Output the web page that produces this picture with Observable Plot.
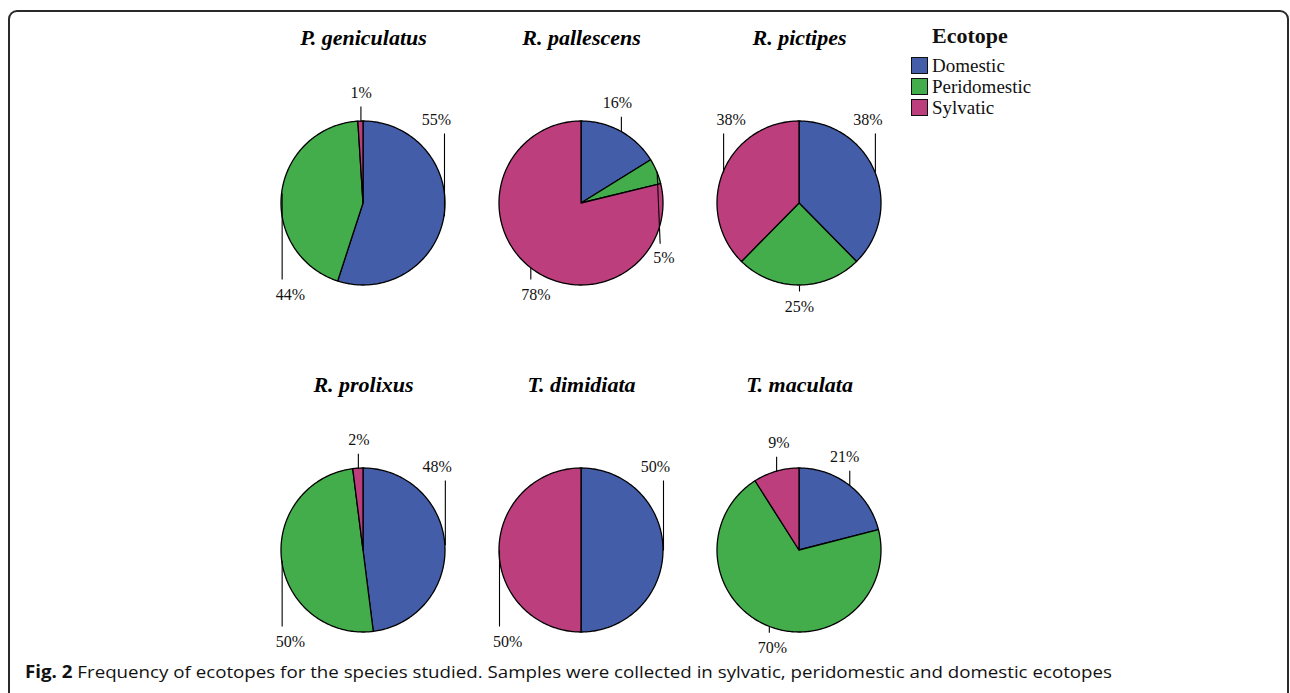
<!DOCTYPE html>
<html><head><meta charset="utf-8">
<script src="https://cdn.jsdelivr.net/npm/d3@7"></script>
<script src="https://cdn.jsdelivr.net/npm/@observablehq/plot@0.6"></script>
<style>
html,body{margin:0;padding:0;background:#fff;overflow:hidden}
#page{position:relative;width:1290px;height:693px;overflow:hidden;background:#fff}
#frame{position:absolute;left:8px;top:10px;width:1281px;height:710px;border:2px solid #2a2a2a;border-radius:9px;box-sizing:border-box}
#chart{position:absolute;left:0;top:0}
#legend{position:absolute;left:0;top:0;font-family:"Liberation Serif","Times New Roman",serif;color:#111}
.lg-title{position:absolute;left:932px;top:25px;font-size:22px;line-height:22px;font-weight:bold;white-space:nowrap}
.lg-row{position:absolute;left:911px;height:17px;white-space:nowrap}
.lg-sw{position:absolute;left:0;top:0;width:17px;height:17px;border:1.2px solid #111;box-sizing:border-box}
.lg-tx{position:absolute;left:21px;top:0;font-size:19px;line-height:17px}
#caption{position:absolute;left:25px;top:663px;font-family:"Open Sans",sans-serif;font-size:17px;line-height:18px;white-space:nowrap;color:#111;transform-origin:0 0}
</style></head>
<body>
<div id="page">
  <div id="frame"></div>
  <div id="chart"></div>
  <div id="legend"></div>
  <div id="caption"><b>Fig. 2</b> Frequency of ecotopes for the species studied. Samples were collected in sylvatic, peridomestic and domestic ecotopes</div>
</div>
<script>
// ---- data (percent of samples per ecotope) ----
const species = ["P. geniculatus", "R. pallescens", "R. pictipes", "R. prolixus", "T. dimidiata", "T. maculata"];
const ecotopes = ["Domestic", "Peridomestic", "Sylvatic"];
const domestic = [55, 16, 38, 48, 50, 21];
const peridomestic = [44, 5, 25, 50, 0, 70];
const sylvatic = [1, 78, 38, 2, 50, 9];
const colors = ["#445da9", "#43ad4b", "#bd3e7c"];
const legendTitle = "Ecotope";

// ---- build slice outlines and labels in unit-radius pie space ----
const PX = 82; // pixels per unit radius (for label offsets)
const slices = [], leaders = [], labels = [], titles = [];
species.forEach((sp, i) => {
  const col = i % 3, row = Math.floor(i / 3);
  titles.push({sp, col, row});
  const vals = [domestic[i], peridomestic[i], sylvatic[i]];
  const total = d3.sum(vals);
  let a = 0;
  const placed = [];
  vals.forEach((v, k) => {
    if (!v) return;
    const a0 = a, a1 = a + (v / total) * 2 * Math.PI;
    a = a1;
    const n = Math.max(2, Math.ceil((a1 - a0) / (Math.PI / 180)));
    for (let j = 0; j <= n; j++) {
      const t = a0 + (a1 - a0) * j / n;
      slices.push({sp, col, row, eco: ecotopes[k], px: Math.sin(t), py: Math.cos(t)});
    }
    const m = (a0 + a1) / 2, s = Math.sin(m), c = Math.cos(m);
    let above = s > 0.95 ? true : s < -0.95 ? false : c > 0;
    let flipped = false;
    for (const p of placed) if (p.above === above && Math.abs(p.ax - s) < 50 / PX) { above = !above; flipped = true; }
    placed.push({above, ax: s});
    let endY, labY, endX = s, labX = s * 0.9;
    if (above) { endY = Math.max(c + 15 / PX, 70 / PX); labY = endY + 14 / PX; }
    else if (flipped) { endY = c - 72 / PX; labY = endY - 14 / PX; endX = s * 1.04; labX = s * 1.09; }
    else { endY = Math.min(c - 6 / PX, -76 / PX); labY = endY - 15 / PX; }
    leaders.push({col, row, x1: s, y1: c, x2: endX, y2: endY});
    labels.push({col, row, x: labX, y: labY, text: `${v}%`});
  });
});

const serif = '"Liberation Serif","Times New Roman",serif';
const chart = Plot.plot({
  width: 1290, height: 694,
  marginTop: 0, marginBottom: 0, marginLeft: 254, marginRight: 382,
  fx: {domain: [0, 1, 2], padding: 0, axis: null, round: false},
  fy: {domain: [0, 1], padding: 0, axis: null, round: false},
  x: {domain: [-109 / PX, 109 / PX], axis: null},
  y: {domain: [-144 / PX, 203 / PX], axis: null},
  color: {domain: ecotopes, range: colors},
  style: {background: "transparent", overflow: "visible"},
  marks: [
    Plot.area(slices, {
      x1: () => 0, y1: () => 0, x2: "px", y2: "py", z: "eco",
      fill: "eco", stroke: "#000", strokeWidth: 1.3, strokeLinejoin: "round",
      fx: "col", fy: "row"
    }),
    Plot.link(leaders, {x1: "x1", y1: "y1", x2: "x2", y2: "y2", stroke: "#000", strokeWidth: 1.1, fx: "col", fy: "row"}),
    Plot.text(labels, {x: "x", y: "y", text: "text", fx: "col", fy: "row",
      fontFamily: serif, fontSize: 16, fill: "#111", lineAnchor: "middle"}),
    Plot.text(titles, {text: "sp", fx: "col", fy: "row", frameAnchor: "top", lineAnchor: "middle", dy: 37,
      fontFamily: serif, fontSize: 22, fontWeight: "bold", fontStyle: "italic", fill: "#000"})
  ]
});
document.getElementById("chart").appendChild(chart);

// ---- legend ----
const lg = document.getElementById("legend");
const t = document.createElement("div");
t.className = "lg-title"; t.textContent = legendTitle; lg.appendChild(t);
ecotopes.forEach((e, i) => {
  const r = document.createElement("div");
  r.className = "lg-row"; r.style.top = (57 + 21 * i) + "px";
  const sw = document.createElement("div"); sw.className = "lg-sw"; sw.style.background = colors[i];
  const tx = document.createElement("div"); tx.className = "lg-tx"; tx.textContent = e;
  r.appendChild(sw); r.appendChild(tx); lg.appendChild(r);
});

// ---- caption width fit ----
function fitCaption() {
  const cap = document.getElementById("caption");
  cap.style.transform = "none";
  const w = cap.getBoundingClientRect().width;
  cap.style.transform = `scaleX(${1087 / w})`;
}
fitCaption();
if (document.fonts) document.fonts.ready.then(fitCaption);
</script>
</body></html>
